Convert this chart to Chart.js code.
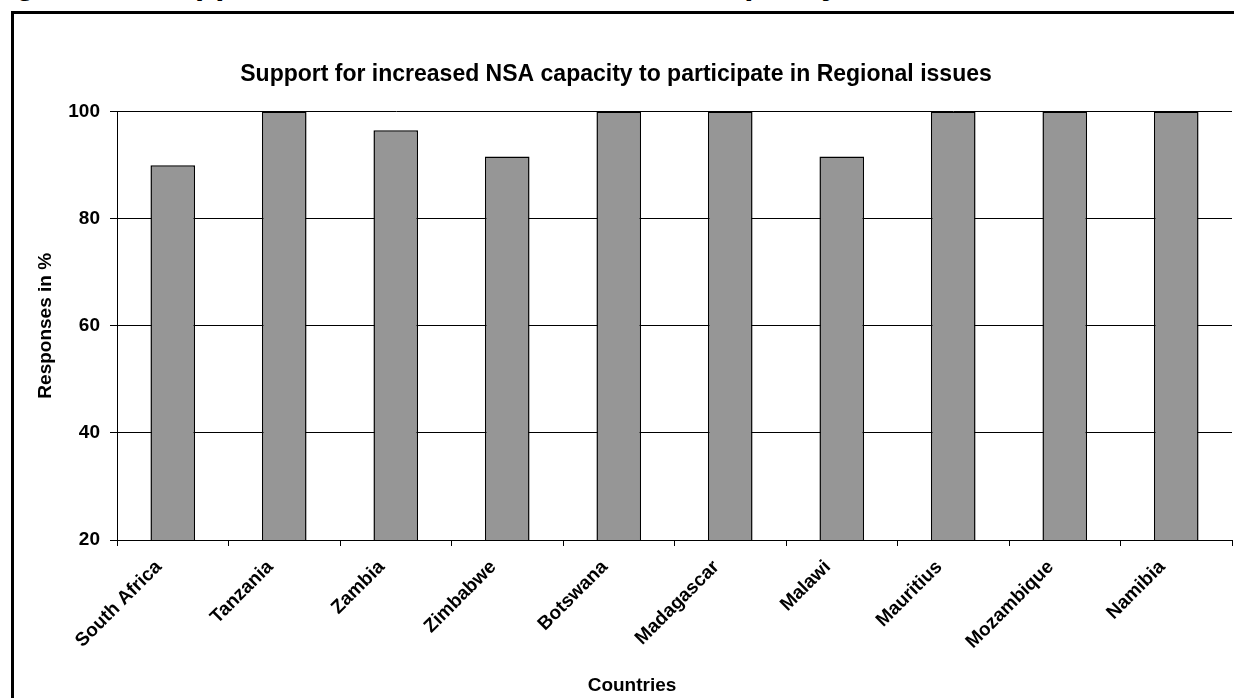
<!DOCTYPE html>
<html>
<head>
<meta charset="utf-8">
<script src="https://cdn.jsdelivr.net/npm/chart.js@4.4.0/dist/chart.umd.min.js"></script>
<style>
  html, body { margin: 0; padding: 0; background: #fff; overflow: hidden; }
  .page { position: relative; width: 1234px; height: 698px; overflow: hidden; }
  .heading span {
    position: absolute; top: -34px; white-space: nowrap;
    font: bold 33px/33px "Liberation Sans", Arial, sans-serif; color: #000;
  }
  #support { position: absolute; left: 0; top: 0; }
</style>
</head>
<body>
<div class="page">
  <div class="heading">
    <span style="left:-14px">Figure 12: Support for increased</span>
    <span style="left:630px">NSA capacity</span>
  </div>
  <canvas id="support" width="1234" height="698"></canvas>
</div>
<script>
// survey: support for increased NSA capacity, by country
const countries = [
  'South Africa', 'Tanzania', 'Zambia', 'Zimbabwe', 'Botswana',
  'Madagascar', 'Malawi', 'Mauritius', 'Mozambique', 'Namibia'
];
const responses = [90, 100, 96.5, 91.6, 100, 100, 91.6, 100, 100, 100];
const yTicks = [20, 40, 60, 80, 100];

const FONT = '"Liberation Sans", Arial, sans-serif';

// black frame round the chart + x axis caption
const framePlugin = {
  id: 'frame',
  afterDraw(chart) {
    const ctx = chart.ctx;
    ctx.save();
    ctx.lineWidth = 3;
    ctx.strokeStyle = '#000';
    ctx.strokeRect(12.5, 12.5, 1400, 900);
    ctx.font = 'bold 19px ' + FONT;
    ctx.fillStyle = '#000';
    ctx.textAlign = 'center';
    ctx.textBaseline = 'middle';
    ctx.fillText('Countries', 632, 686);
    ctx.restore();
  }
};

const supportData = {
  labels: countries,
  datasets: [{
    data: responses,
    backgroundColor: '#969696',
    borderColor: '#000',
    borderWidth: 1.5,
    categoryPercentage: 0.4,
    barPercentage: 1
  }]
};

const supportChart = {
  type: 'bar',
  data: supportData,
  options: {
    responsive: false,
    animation: false,
    layout: { padding: { top: 0, right: 2, left: 0, bottom: 0 } },
    plugins: {
      legend: { display: false },
      tooltip: { enabled: false },
      title: {
        display: true,
        text: 'Support for increased NSA capacity to participate in Regional issues',
        color: '#000',
        font: { family: FONT, size: 23, weight: 'bold' },
        padding: { top: 61, bottom: 23 }
      }
    },
    scales: {
      y: {
        min: 20,
        max: 100,
        afterFit(scale) { scale.width = 117; },
        afterBuildTicks(scale) { scale.ticks = yTicks.map(v => ({ value: v })); },
        ticks: {
          color: '#000',
          padding: 10,
          font: { family: FONT, size: 19, weight: 'bold' }
        },
        grid: { color: '#000', lineWidth: 1, tickLength: 7 },
        border: { color: '#000', width: 1 },
        title: {
          display: true,
          text: 'Responses in %',
          color: '#000',
          font: { family: FONT, size: 19, weight: 'bold' },
          padding: { top: 34 }
        }
      },
      x: {
        afterFit(scale) { scale.height = 158; },
        ticks: {
          color: '#000',
          autoSkip: false,
          minRotation: 45,
          maxRotation: 45,
          padding: 10,
          labelOffset: -14,
          font: { family: FONT, size: 19, weight: 'bold' }
        },
        grid: { offset: true, drawOnChartArea: false, color: '#000', tickLength: 6 },
        border: { color: '#000', width: 1 }
      }
    }
  },
  plugins: [framePlugin]
};

var mySupportChart = new Chart(
  document.getElementById('support'),
  supportChart
);
</script>
</body>
</html>
